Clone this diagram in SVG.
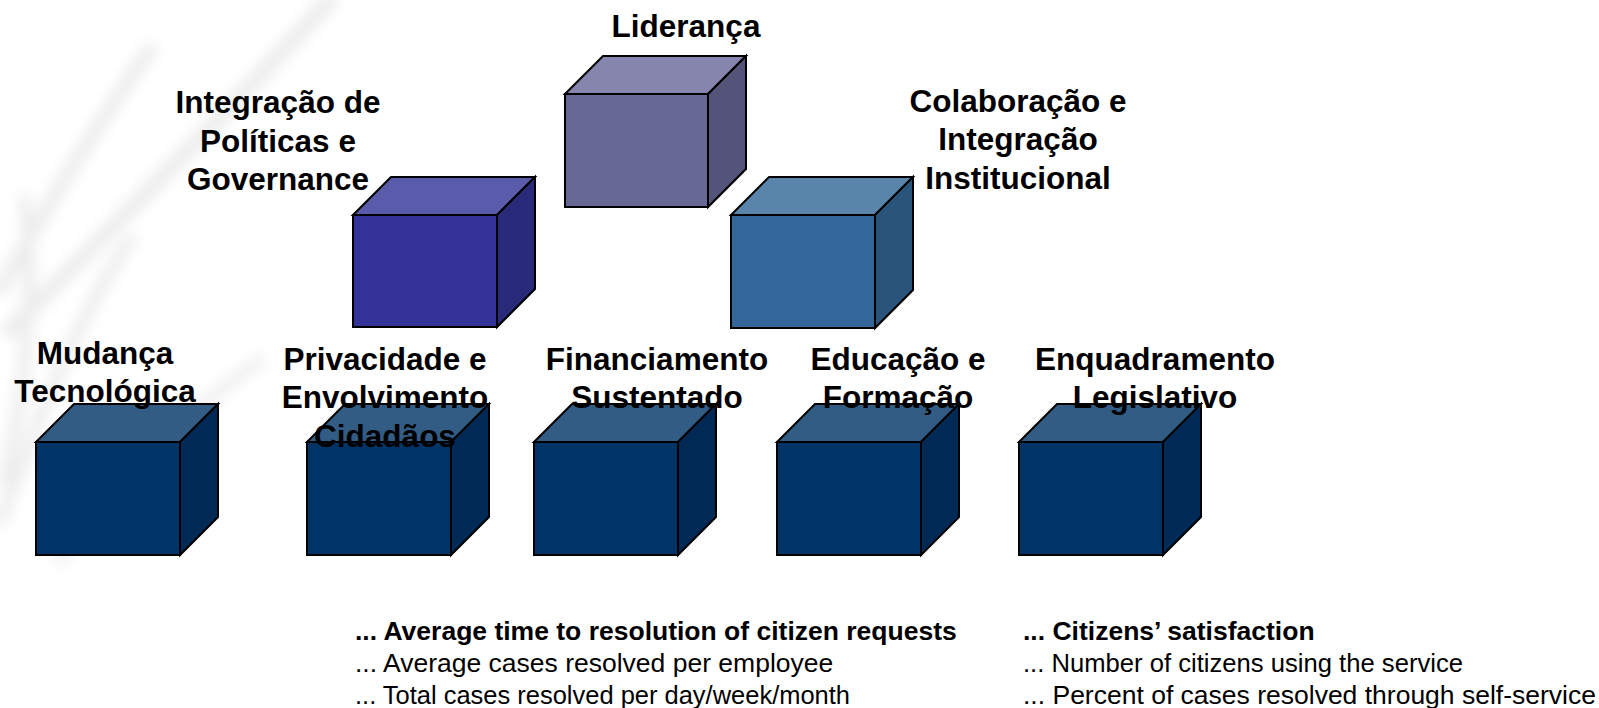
<svg xmlns="http://www.w3.org/2000/svg" width="1599" height="708" viewBox="0 0 1599 708">
<defs>
<filter id="blur" x="-20%" y="-20%" width="140%" height="140%"><feGaussianBlur stdDeviation="7"/></filter>
</defs>
<style>
.edge{stroke:#000;stroke-width:2;stroke-linejoin:miter}
.lbl{font-family:"Liberation Sans",Arial,sans-serif;font-weight:bold;font-size:31.5px;fill:#000;text-anchor:middle}
.kpi{font-family:"Liberation Sans",Arial,sans-serif;font-size:26.5px;fill:#000}
.kpib{font-weight:bold}
.l-front{fill:#676896}.l-top{fill:#8585AD}.l-side{fill:#545379}
.i-front{fill:#333399}.i-top{fill:#5B5BAB}.i-side{fill:#2A2A7A}
.c-front{fill:#336699}.c-top{fill:#5A85AB}.c-side{fill:#2A547A}
.b-front{fill:#003366}.b-top{fill:#335C85}.b-side{fill:#002A55}
</style>
<rect width="1599" height="708" fill="#fff"/>
<g id="background" fill="none" stroke="#ececec" stroke-linecap="round" filter="url(#blur)">
<path d="M0 290 C50 200 100 120 150 50" stroke-width="14"/>
<path d="M10 330 C120 220 220 120 330 0" stroke-width="16"/>
<path d="M0 520 C40 420 70 330 130 240" stroke-width="12"/>
<path d="M5 480 C25 390 35 300 25 200" stroke-width="12"/>
<path d="M60 560 C120 470 180 420 260 360" stroke-width="10"/>
</g>
<g id="connectors"></g>
<g id="node-lideranca">
<rect class="edge l-front" x="565" y="94" width="143" height="113"/>
<path class="edge l-top" d="M565 94 L603 56 L746 56 L708 94 Z"/>
<path class="edge l-side" d="M708 94 L746 56 L746 169 L708 207 Z"/>
<text class="lbl" x="686" y="37">Liderança</text>
</g>
<g id="node-integracao">
<rect class="edge i-front" x="353" y="215" width="144" height="112"/>
<path class="edge i-top" d="M353 215 L391 177 L535 177 L497 215 Z"/>
<path class="edge i-side" d="M497 215 L535 177 L535 289 L497 327 Z"/>
<text class="lbl" x="278" y="113">Integração de</text>
<text class="lbl" x="278" y="152">Políticas e</text>
<text class="lbl" x="278" y="190">Governance</text>
</g>
<g id="node-colaboracao">
<rect class="edge c-front" x="731" y="215" width="144" height="113"/>
<path class="edge c-top" d="M731 215 L769 177 L913 177 L875 215 Z"/>
<path class="edge c-side" d="M875 215 L913 177 L913 290 L875 328 Z"/>
<text class="lbl" x="1018" y="112">Colaboração e</text>
<text class="lbl" x="1018" y="150">Integração</text>
<text class="lbl" x="1018" y="189">Institucional</text>
</g>
<g id="node-mudanca">
<rect class="edge b-front" x="36" y="442" width="144" height="113"/>
<path class="edge b-top" d="M36 442 L74 404 L218 404 L180 442 Z"/>
<path class="edge b-side" d="M180 442 L218 404 L218 517 L180 555 Z"/>
<text class="lbl" x="105" y="364">Mudança</text>
<text class="lbl" x="105" y="402">Tecnológica</text>
</g>
<g id="node-privacidade">
<rect class="edge b-front" x="307" y="442" width="144" height="113"/>
<path class="edge b-top" d="M307 442 L345 404 L489 404 L451 442 Z"/>
<path class="edge b-side" d="M451 442 L489 404 L489 517 L451 555 Z"/>
<text class="lbl" x="385" y="370">Privacidade e</text>
<text class="lbl" x="385" y="408">Envolvimento</text>
<text class="lbl" x="385" y="447">Cidadãos</text>
</g>
<g id="node-financiamento">
<rect class="edge b-front" x="534" y="442" width="144" height="113"/>
<path class="edge b-top" d="M534 442 L572 404 L716 404 L678 442 Z"/>
<path class="edge b-side" d="M678 442 L716 404 L716 517 L678 555 Z"/>
<text class="lbl" x="657" y="370">Financiamento</text>
<text class="lbl" x="657" y="408">Sustentado</text>
</g>
<g id="node-educacao">
<rect class="edge b-front" x="777" y="442" width="144" height="113"/>
<path class="edge b-top" d="M777 442 L815 404 L959 404 L921 442 Z"/>
<path class="edge b-side" d="M921 442 L959 404 L959 517 L921 555 Z"/>
<text class="lbl" x="898" y="370">Educação e</text>
<text class="lbl" x="898" y="408">Formação</text>
</g>
<g id="node-enquadramento">
<rect class="edge b-front" x="1019" y="442" width="144" height="113"/>
<path class="edge b-top" d="M1019 442 L1057 404 L1201 404 L1163 442 Z"/>
<path class="edge b-side" d="M1163 442 L1201 404 L1201 517 L1163 555 Z"/>
<text class="lbl" x="1155" y="370">Enquadramento</text>
<text class="lbl" x="1155" y="408">Legislativo</text>
</g>
<g id="kpi-left">
<text class="kpi kpib" x="355" y="640">... Average time to resolution of citizen requests</text>
<text class="kpi" x="355" y="672">... Average cases resolved per employee</text>
<text class="kpi" x="355" y="704" textLength="495" lengthAdjust="spacingAndGlyphs">... Total cases resolved per day/week/month</text>
</g>
<g id="kpi-right">
<text class="kpi kpib" x="1023" y="640">... Citizens’ satisfaction</text>
<text class="kpi" x="1023" y="672" textLength="440" lengthAdjust="spacingAndGlyphs">... Number of citizens using the service</text>
<text class="kpi" x="1023" y="704">... Percent of cases resolved through self-service</text>
</g>
</svg>
